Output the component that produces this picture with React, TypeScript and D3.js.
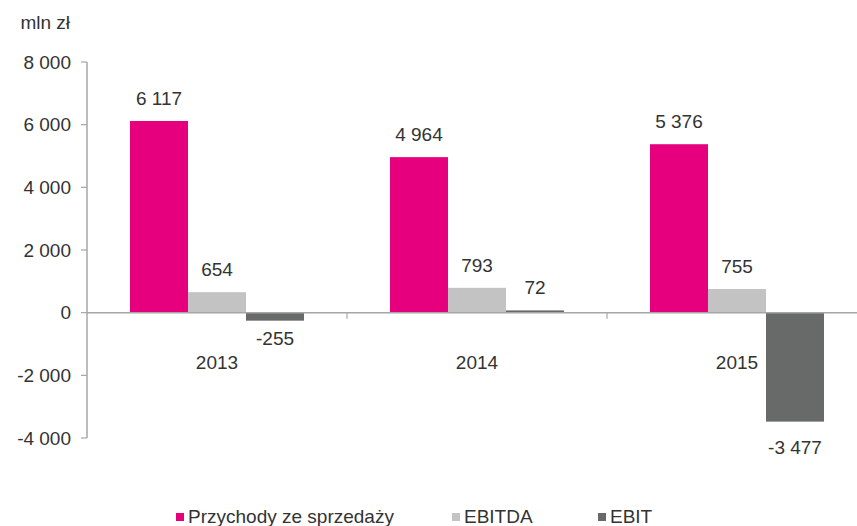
import React from 'react';
import * as d3 from 'd3';

// dane (mln zł)
const years = ['2013', '2014', '2015'];
const seriesNames = ['Przychody ze sprzedaży', 'EBITDA', 'EBIT'];
const przychody = [6117, 4964, 5376];
const ebitda = [654, 793, 755];
const ebit = [-255, 72, -3477];
const yTicks = [-4000, -2000, 0, 2000, 4000, 6000, 8000];

const colors = ['#E6007E', '#C3C3C3', '#676A69'];
const values = [przychody, ebitda, ebit];

const width = 857;
const height = 526;
const font = '"Liberation Sans", Arial, sans-serif';
const textColor = '#333333';
const fs = 19;

// "6117" -> "6 117", "-3477" -> "-3 477"
const fmt = (v: number) => {
  const s = Math.abs(v).toString().replace(/\B(?=(\d{3})+(?!\d))/g, ' ');
  return (v < 0 ? '-' : '') + s;
};

const App = () => {
  const y = d3.scaleLinear().domain([-4000, 8000]).range([438, 62]);
  const x0 = d3.scaleBand<string>().domain(years).range([87, 867]).padding(0);
  const x1 = d3
    .scaleBand<string>()
    .domain(seriesNames)
    .range([0, x0.bandwidth()])
    .paddingInner(0)
    .paddingOuter(0.741);

  const y0 = y(0);
  const axisColor = '#A6A6A6';

  const legendX = [176, 452, 598];

  return (
    <svg
      width={width}
      height={height}
      style={{ position: 'absolute', left: 0, top: 0, background: '#fff' }}
      fontFamily={font}
    >
      {/* jednostka */}
      <text x={70} y={29} textAnchor="end" fontSize={19} fill={textColor}>
        mln zł
      </text>

      {/* oś Y */}
      <line x1={87} x2={87} y1={y(8000)} y2={y(-4000)} stroke={axisColor} strokeWidth={1.5} />
      {yTicks.map((t) => (
        <g key={t}>
          <line x1={81} x2={87} y1={y(t)} y2={y(t)} stroke={axisColor} strokeWidth={1.2} />
          <text
            x={71}
            y={y(t)}
            dy="0.35em"
            textAnchor="end"
            fontSize={fs}
            fill={textColor}
          >
            {fmt(t)}
          </text>
        </g>
      ))}

      {/* słupki */}
      {years.map((yr, i) => (
        <g key={yr} transform={`translate(${x0(yr)},0)`}>
          {seriesNames.map((s, j) => {
            const v = values[j][i];
            const top = Math.min(y(v), y0);
            const h = Math.abs(y(v) - y0);
            const cx = (x1(s) as number) + x1.bandwidth() / 2;
            return (
              <g key={s}>
                <rect x={x1(s)} y={top} width={x1.bandwidth()} height={h} fill={colors[j]} />
                <text
                  x={cx}
                  y={v >= 0 ? y(v) - 16 : y(v) + (v < -1000 ? 32 : 24)}
                  textAnchor="middle"
                  fontSize={fs}
                  fill={textColor}
                >
                  {fmt(v)}
                </text>
              </g>
            );
          })}
          <text
            x={x0.bandwidth() / 2}
            y={369}
            textAnchor="middle"
            fontSize={fs}
            fill={textColor}
          >
            {yr}
          </text>
        </g>
      ))}

      {/* oś X (linia zera) */}
      <line x1={87} x2={width} y1={y0} y2={y0} stroke={axisColor} strokeWidth={1.5} />
      {years.slice(1).map((yr) => (
        <line
          key={yr}
          x1={x0(yr)}
          x2={x0(yr)}
          y1={y0}
          y2={y0 + 6}
          stroke={axisColor}
          strokeWidth={1.2}
        />
      ))}

      {/* legenda */}
      {seriesNames.map((s, j) => (
        <g key={s}>
          <rect x={legendX[j]} y={513} width={8} height={8} fill={colors[j]} />
          <text x={legendX[j] + 12} y={523} fontSize={fs} fill={textColor}>
            {s}
          </text>
        </g>
      ))}
    </svg>
  );
};

export default App;
